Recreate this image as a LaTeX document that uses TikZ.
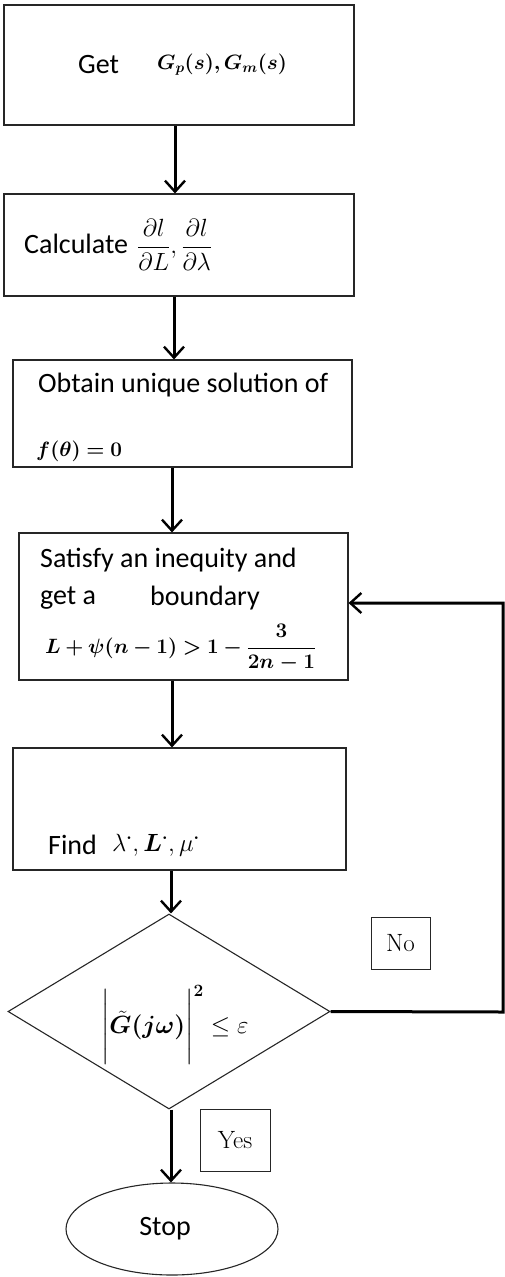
\documentclass[tikz,border=0pt]{standalone}
\usepackage{amsmath,bm}
\usepackage{fontspec}
\setmainfont{Carlito}
\usetikzlibrary{shapes.geometric,arrows.meta}
\begin{document}
\begin{tikzpicture}[x=1pt,y=-1pt,
  box/.style={draw=black!85,line width=1.1pt,rectangle,inner sep=0pt},
  txt/.style={anchor=west,inner sep=0pt,font=\fontsize{28}{32}\selectfont},
  mth/.style={anchor=west,inner sep=0pt,font=\fontsize{20}{24}\selectfont},
  arr/.style={line width=3pt,-{Straight Barb[length=11pt,width=20pt,line width=2.4pt]}},
  lbl/.style={draw=black!85,line width=1pt,inner sep=0pt,font=\fontfamily{lmr}\fontsize{25}{28}\selectfont}]
\useasboundingbox (0,0) rectangle (504,1277);
% boxes
\node[box,minimum width=350pt,minimum height=120pt] (b1) at (179,65) {};
\node[box,minimum width=350pt,minimum height=102pt] (b2) at (179,245) {};
\node[box,minimum width=339pt,minimum height=107pt] (b3) at (182.5,413.5) {};
\node[box,minimum width=329pt,minimum height=147pt] (b4) at (183.5,606.5) {};
\node[box,minimum width=333pt,minimum height=122pt] (b5) at (179.5,809) {};
\node[draw=black!85,line width=1.1pt,diamond,minimum width=322pt,minimum height=195pt,inner sep=0pt] (dia) at (169,1011.5) {};
\node[draw=black!85,line width=1.1pt,ellipse,minimum width=212pt,minimum height=92pt,inner sep=0pt] (stop) at (172,1229) {};
% texts
\node[txt] (t1) at (78,65) {Get};
\node[mth] (m1) at (157,65) {$\bm{G_p(s),G_m(s)}$};
\node[txt] (t2) at (24,244) {Calculate};
\node[mth,font=\fontsize{25}{28}\selectfont] (m2) at (137,245) {$\dfrac{\partial l}{\partial L},\dfrac{\partial l}{\partial\lambda}$};
\node[txt] (t3) at (38,385) {Obtain unique solution of};
\node[mth,font=\fontsize{21}{24}\selectfont] (m3) at (36,451) {$\bm{f(\theta)=0}$};
\node[txt] (t4a) at (40,560) {Satisfy an inequity and};
\node[txt] (t4b) at (40,598) {get a};
\node[txt] (t4c) at (150,598) {boundary};
\node[mth] (m4) at (45,648) {$\bm{L+\psi(n-1)>1-\dfrac{3}{2n-1}}$};
\node[txt] (t5) at (48,845) {Find};
\node[mth,font=\fontsize{23}{26}\selectfont] (m5) at (112,845) {$\lambda^{\bm{\cdot}},\bm{L}^{\bm{\cdot}},\mu^{\bm{\cdot}}$};
\node[mth,font=\fontsize{23}{26}\selectfont] (m6) at (101,1025) {$\Bigg|\bm{\tilde{G}(j\omega)}\Bigg|^{\bm 2}\le\varepsilon$};
\node[font=\fontsize{28}{32}\selectfont,inner sep=0pt] (t7) at (165,1229) {Stop};
\node[lbl,minimum width=59pt,minimum height=52pt] (no) at (400.5,943) {No};
\node[lbl,minimum width=70pt,minimum height=62pt] (yes) at (235,1140) {Yes};
% connectors
\coordinate (c1) at (503,1012);
\coordinate (c2) at (503,603);
\draw[arr] (b1.south -| 175,0) -- (b2.north -| 175,0);
\draw[arr] (b2.south -| 174,0) -- (b3.north -| 174,0);
\draw[arr] (b3.south -| 172,0) -- (b4.north -| 172,0);
\draw[arr] (b4.south -| 172,0) -- (b5.north -| 172,0);
\draw[arr] (b5.south -| 171,0) -- (dia.north -| 171,0);
\draw[arr] (dia.south -| 171,0) -- (stop.north -| 171,0);
\draw[arr] (dia.east) -- (c1) -- (c2) -- (c2 -| b4.east);
\end{tikzpicture}
\end{document}
